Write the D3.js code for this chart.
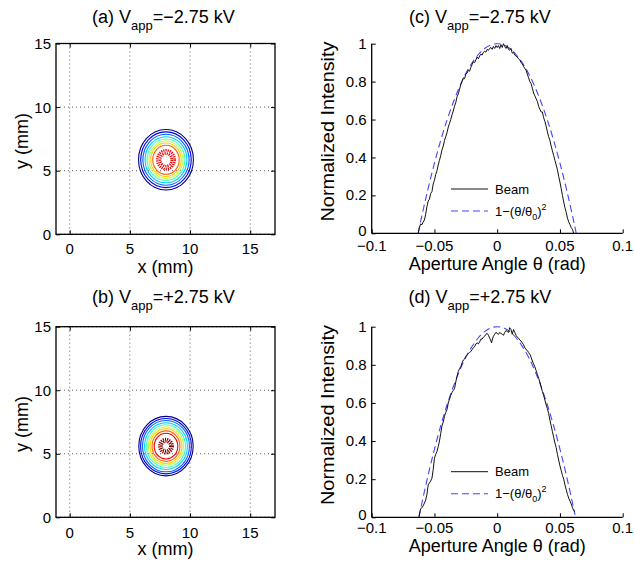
<!DOCTYPE html>
<html lang="en">
<head>
<meta charset="UTF-8">
<title>Beam profiles</title>
<script src="https://d3js.org/d3.v7.min.js"></script>
<style>
  body { margin: 0; background: #fff; }
  svg text { font-family: "Liberation Sans", Arial, Helvetica, sans-serif; fill: #000; }
</style>
</head>
<body>
<div id="chart"></div>
<script>
// --- data ---
const mmTicks = [0, 5, 10, 15];
const angleTicks = [-0.1, -0.05, 0, 0.05, 0.1];
const angleTickLabels = ["\u22120.1", "\u22120.05", "0", "0.05", "0.1"];
const intensityTicks = [0, 0.2, 0.4, 0.6, 0.8, 1];
const intensityTickLabels = ["0", "0.2", "0.4", "0.6", "0.8", "1"];

// contour levels (jet colormap index 0..9) and their semi-axes in mm
// the last two entries are the noisy core (speckled peak level)
const centerA = [8.0, 5.86];
const levelsA = [0, 1, 2, 3, 4, 5, 6, 7, 8, 8];
const rxA = [2.28, 2.10, 1.92, 1.74, 1.57, 1.41, 1.27, 1.10, 0.72, 0.48];
const ryA = [2.38, 2.19, 2.00, 1.81, 1.63, 1.47, 1.32, 1.14, 0.74, 0.50];

const centerB = [8.0, 5.6];
const levelsB = [0, 1, 2, 3, 4, 5, 6, 7, 8, 9, 9];
const rxB = [2.26, 2.11, 1.95, 1.78, 1.62, 1.46, 1.32, 1.16, 0.98, 0.55, 0.36];
const ryB = [2.34, 2.18, 2.02, 1.84, 1.68, 1.51, 1.37, 1.20, 1.01, 0.55, 0.36];

// angular profiles [theta (rad), normalized intensity]
const beamC = [[-0.063,0],[-0.062,0.03],[-0.061,0.05],[-0.060,0.045],[-0.059,0.06],[-0.058,0.07],[-0.057,0.10],[-0.056,0.14],
  [-0.055,0.17],[-0.054,0.18],[-0.053,0.21],[-0.052,0.22],[-0.051,0.26],[-0.050,0.28],[-0.049,0.31],[-0.048,0.33],
  [-0.047,0.36],[-0.046,0.385],[-0.045,0.41],[-0.044,0.44],[-0.043,0.46],[-0.042,0.49],[-0.041,0.51],[-0.040,0.53],
  [-0.039,0.56],[-0.038,0.58],[-0.037,0.60],[-0.036,0.625],[-0.035,0.645],[-0.034,0.67],[-0.033,0.69],[-0.032,0.72],
  [-0.031,0.735],[-0.030,0.76],[-0.029,0.785],[-0.028,0.80],[-0.027,0.82],[-0.026,0.815],[-0.025,0.84],[-0.024,0.845],
  [-0.023,0.86],[-0.022,0.855],[-0.021,0.875],[-0.020,0.89],[-0.019,0.905],[-0.018,0.90],[-0.017,0.915],[-0.016,0.93],
  [-0.015,0.92],[-0.014,0.935],[-0.013,0.945],[-0.012,0.94],[-0.011,0.955],[-0.010,0.96],[-0.009,0.955],[-0.008,0.97],
  [-0.007,0.965],[-0.006,0.975],[-0.005,0.98],[-0.004,0.97],[-0.003,0.985],[-0.002,0.975],[-0.001,0.99],[0.000,0.98],
  [0.001,0.99],[0.002,0.975],[0.003,0.995],[0.004,0.98],[0.005,1.0],[0.006,0.985],[0.007,0.975],[0.008,0.99],
  [0.009,0.97],[0.010,0.965],[0.011,0.975],[0.012,0.95],[0.013,0.955],[0.014,0.94],[0.015,0.935],[0.016,0.93],
  [0.017,0.92],[0.018,0.915],[0.019,0.90],[0.020,0.895],[0.021,0.88],[0.022,0.87],[0.023,0.86],[0.024,0.84],
  [0.025,0.82],[0.026,0.80],[0.027,0.79],[0.028,0.765],[0.029,0.74],[0.030,0.725],[0.031,0.71],[0.032,0.695],
  [0.033,0.67],[0.034,0.655],[0.035,0.64],[0.036,0.64],[0.037,0.61],[0.038,0.59],[0.039,0.565],[0.040,0.535],
  [0.041,0.51],[0.042,0.49],[0.043,0.46],[0.044,0.435],[0.045,0.41],[0.046,0.385],[0.047,0.36],[0.048,0.335],
  [0.049,0.30],[0.050,0.27],[0.051,0.235],[0.052,0.20],[0.053,0.165],[0.054,0.135],[0.055,0.11],[0.056,0.08],
  [0.057,0.06],[0.058,0.045],[0.059,0.03],[0.060,0.02],[0.061,0.0]];
const fitC = [[-0.063,0],[-0.060,0.093],[-0.055,0.238],[-0.050,0.37],[-0.045,0.49],[-0.040,0.597],[-0.035,0.691],
  [-0.030,0.773],[-0.025,0.843],[-0.020,0.899],[-0.015,0.943],[-0.010,0.975],[-0.005,0.994],[0,1],[0.005,0.994],
  [0.010,0.975],[0.015,0.943],[0.020,0.899],[0.025,0.843],[0.030,0.773],[0.035,0.691],[0.040,0.597],[0.045,0.49],
  [0.050,0.37],[0.055,0.238],[0.060,0.093],[0.063,0]];

const beamD = [[-0.0624,0],[-0.0615,0.03],[-0.061,0.045],[-0.060,0.05],[-0.059,0.06],[-0.058,0.075],[-0.057,0.09],[-0.056,0.12],
  [-0.055,0.17],[-0.054,0.18],[-0.053,0.19],[-0.052,0.205],[-0.051,0.25],[-0.050,0.31],[-0.049,0.33],[-0.048,0.345],
  [-0.047,0.37],[-0.046,0.40],[-0.045,0.44],[-0.044,0.48],[-0.043,0.50],[-0.042,0.53],[-0.041,0.55],[-0.040,0.565],
  [-0.039,0.60],[-0.038,0.62],[-0.037,0.64],[-0.036,0.655],[-0.035,0.665],[-0.034,0.675],[-0.033,0.71],[-0.032,0.74],
  [-0.031,0.765],[-0.030,0.78],[-0.029,0.79],[-0.028,0.81],[-0.027,0.825],[-0.026,0.83],[-0.025,0.845],[-0.024,0.85],
  [-0.023,0.86],[-0.022,0.865],[-0.021,0.87],[-0.020,0.88],[-0.019,0.89],[-0.018,0.895],[-0.017,0.91],[-0.016,0.915],
  [-0.015,0.91],[-0.014,0.92],[-0.013,0.935],[-0.012,0.935],[-0.011,0.945],[-0.010,0.95],[-0.009,0.96],[-0.008,0.965],
  [-0.007,0.955],[-0.006,0.94],[-0.005,0.925],[-0.0045,0.915],[-0.004,0.93],[-0.003,0.95],[-0.002,0.96],[-0.001,0.97],
  [0.000,0.965],[0.001,0.96],[0.002,0.97],[0.003,0.965],[0.004,0.96],[0.005,0.955],[0.006,0.97],[0.007,0.98],
  [0.008,0.975],[0.009,0.97],[0.010,0.995],[0.011,0.985],[0.012,0.96],[0.013,0.985],[0.014,0.97],[0.015,0.955],
  [0.016,0.945],[0.017,0.94],[0.018,0.93],[0.019,0.925],[0.020,0.915],[0.021,0.905],[0.022,0.89],[0.023,0.88],
  [0.024,0.875],[0.025,0.865],[0.026,0.855],[0.027,0.84],[0.028,0.82],[0.029,0.805],[0.030,0.79],[0.031,0.77],
  [0.032,0.75],[0.033,0.73],[0.034,0.71],[0.035,0.685],[0.036,0.66],[0.037,0.64],[0.038,0.615],[0.039,0.59],
  [0.040,0.57],[0.041,0.545],[0.042,0.51],[0.043,0.48],[0.044,0.45],[0.045,0.42],[0.046,0.39],[0.047,0.365],
  [0.048,0.33],[0.049,0.30],[0.050,0.27],[0.051,0.245],[0.052,0.22],[0.053,0.20],[0.054,0.17],[0.055,0.145],
  [0.056,0.12],[0.057,0.10],[0.058,0.085],[0.059,0.07],[0.060,0.05],[0.061,0.035],[0.062,0.03]];
const fitD = [[-0.0624,0],[-0.060,0.075],[-0.055,0.223],[-0.050,0.358],[-0.045,0.48],[-0.040,0.589],[-0.035,0.685],
  [-0.030,0.769],[-0.025,0.84],[-0.020,0.897],[-0.015,0.942],[-0.010,0.974],[-0.005,0.994],[0,1],[0.005,0.994],
  [0.010,0.974],[0.015,0.942],[0.020,0.897],[0.025,0.84],[0.030,0.769],[0.035,0.685],[0.040,0.589],[0.045,0.48],
  [0.050,0.358],[0.055,0.223],[0.060,0.075],[0.062,0.013]];

// --- styles ---
const jet = ["#000088", "#0000f0", "#0060ff", "#00ccff", "#40ffc0", "#b8ff48", "#ffd000", "#ff6000", "#ee0000", "#800000"];
const fitColor = "#4444ff";

const W = 634, H = 567;
const svg = d3.select("#chart").append("svg").attr("width", W).attr("height", H);

// --- contour panels (a) and (b) ---
function contourPanel(box, center, levels, rx, ry, title, tickBase, labelBase, titleBase) {
  const x = d3.scaleLinear().domain([-1.14, 17.06]).range([box.l, box.r]);
  const y = d3.scaleLinear().domain([0, 15]).range([box.b, box.t]);
  const g = svg.append("g");
  const peak = d3.max(levels);

  // dotted grid
  g.selectAll(".gx").data(mmTicks).enter().append("line")
    .attr("x1", d => x(d)).attr("x2", d => x(d)).attr("y1", box.t).attr("y2", box.b)
    .attr("stroke", "#333").attr("stroke-width", 0.8).attr("stroke-dasharray", "1,3");
  g.selectAll(".gy").data(mmTicks).enter().append("line")
    .attr("x1", box.l).attr("x2", box.r).attr("y1", d => y(d)).attr("y2", d => y(d))
    .attr("stroke", "#333").attr("stroke-width", 0.8).attr("stroke-dasharray", "1,3");

  // contour rings
  g.selectAll(".ring").data(levels).enter().append("ellipse")
    .attr("cx", x(center[0])).attr("cy", y(center[1]))
    .attr("rx", (d, i) => x(center[0] + rx[i]) - x(center[0]))
    .attr("ry", (d, i) => y(center[1]) - y(center[1] + ry[i]))
    .attr("fill", "none")
    .attr("stroke", d => jet[d])
    .attr("stroke-width", d => d === peak ? 2.6 : 1.1)
    .attr("stroke-dasharray", d => d === peak ? "1.2,1" : null);

  // axes with inward ticks, box
  g.append("g").attr("transform", `translate(0,${box.b})`)
    .call(d3.axisBottom(x).tickValues(mmTicks).tickSize(-4).tickFormat(""));
  g.append("g").attr("transform", `translate(0,${box.t})`)
    .call(d3.axisTop(x).tickValues(mmTicks).tickSize(-4).tickFormat(""));
  g.append("g").attr("transform", `translate(${box.l},0)`)
    .call(d3.axisLeft(y).tickValues(mmTicks).tickSize(-4).tickFormat(""));
  g.append("g").attr("transform", `translate(${box.r},0)`)
    .call(d3.axisRight(y).tickValues(mmTicks).tickSize(-4).tickFormat(""));
  g.selectAll(".domain").remove();
  g.selectAll(".tick line").attr("stroke", "#000");
  g.append("rect").attr("x", box.l).attr("y", box.t)
    .attr("width", box.r - box.l).attr("height", box.b - box.t)
    .attr("fill", "none").attr("stroke", "#000").attr("stroke-width", 1.3);

  // tick labels
  g.selectAll(".xl").data(mmTicks).enter().append("text")
    .attr("x", d => x(d)).attr("y", tickBase).attr("text-anchor", "middle")
    .style("font-size", "15px").text(d => d);
  g.selectAll(".yl").data(mmTicks).enter().append("text")
    .attr("x", box.l - 5).attr("y", d => y(d)).attr("dy", "0.36em").attr("text-anchor", "end")
    .style("font-size", "15px").text(d => d);

  g.append("text").attr("x", (box.l + box.r) / 2).attr("y", labelBase).attr("text-anchor", "middle")
    .style("font-size", "18px").text("x (mm)");
  g.append("text").attr("transform", `translate(28,${(box.t + box.b) / 2 + 2}) rotate(-90)`)
    .attr("text-anchor", "middle").style("font-size", "18px").text("y (mm)");

  drawTitle(163.5, titleBase, title);
}

function drawTitle(cx, base, t) {
  const tx = svg.append("text").attr("x", cx).attr("y", base).attr("text-anchor", "middle")
    .style("font-size", "18px");
  tx.append("tspan").text(t[0] + " V");
  tx.append("tspan").attr("dy", 7).style("font-size", "13px").text("app");
  tx.append("tspan").attr("dy", -7).text(t[1]);
}

// --- profile panels (c) and (d) ---
function profilePanel(box, beam, fit, title, tickBase, labelBase, titleBase, legY) {
  const x = d3.scaleLinear().domain([-0.1, 0.1]).range([box.l, box.r]);
  const y = d3.scaleLinear().domain([0, 1]).range([box.b, box.t]);
  const g = svg.append("g");

  g.append("path").datum(fit)
    .attr("d", d3.line().x(d => x(d[0])).y(d => y(d[1])).curve(d3.curveMonotoneX))
    .attr("fill", "none").attr("stroke", fitColor).attr("stroke-width", 1.1).attr("stroke-dasharray", "7,4");
  g.append("path").datum(beam)
    .attr("d", d3.line().x(d => x(d[0])).y(d => y(d[1])))
    .attr("fill", "none").attr("stroke", "#111").attr("stroke-width", 1);

  const ax = g.append("g").attr("transform", `translate(0,${box.b})`)
    .call(d3.axisBottom(x).tickValues(angleTicks).tickSize(-4).tickFormat(""));
  const ay = g.append("g").attr("transform", `translate(${box.l},0)`)
    .call(d3.axisLeft(y).tickValues(intensityTicks).tickSize(-4).tickFormat(""));
  [ax, ay].forEach(a => {
    a.select(".domain").attr("stroke", "#000").attr("stroke-width", 1.3);
    a.selectAll(".tick line").attr("stroke", "#000");
  });
  ax.select(".domain").attr("d", `M${box.l},0H${box.r}`);
  ay.select(".domain").attr("d", `M0,${box.b}V${box.t}`);

  g.selectAll(".xl").data(angleTicks).enter().append("text")
    .attr("x", d => x(d)).attr("y", tickBase).attr("text-anchor", "middle")
    .style("font-size", "15px").text((d, i) => angleTickLabels[i]);
  // the 0 label sits just above the x tick labels, as in the original
  g.selectAll(".yl").data(intensityTicks).enter().append("text")
    .attr("x", box.l - 5).attr("y", d => y(d) - (d === 0 ? 2 : 0)).attr("dy", "0.34em").attr("text-anchor", "end")
    .style("font-size", "15px").text((d, i) => intensityTickLabels[i]);

  g.append("text").attr("x", (box.l + box.r) / 2).attr("y", labelBase).attr("text-anchor", "middle")
    .style("font-size", "18px").text("Aperture Angle \u03b8 (rad)");
  g.append("text").attr("transform", `translate(334,${(box.t + box.b) / 2 - 7}) rotate(-90)`)
    .attr("text-anchor", "middle").style("font-size", "18px")
    .attr("textLength", 180).attr("lengthAdjust", "spacingAndGlyphs")
    .text("Normalized Intensity");

  // legend
  g.append("line").attr("x1", 451).attr("x2", 488).attr("y1", legY).attr("y2", legY)
    .attr("stroke", "#111").attr("stroke-width", 1);
  g.append("text").attr("x", 495).attr("y", legY + 4.5).style("font-size", "13px").text("Beam");
  g.append("line").attr("x1", 451).attr("x2", 488).attr("y1", legY + 22).attr("y2", legY + 22)
    .attr("stroke", fitColor).attr("stroke-width", 1.1).attr("stroke-dasharray", "7,4");
  const lt = g.append("text").attr("x", 495).attr("y", legY + 26.5).style("font-size", "13px");
  lt.append("tspan").text("1\u2212(\u03b8/\u03b8");
  lt.append("tspan").attr("dy", 4).style("font-size", "9px").text("0");
  lt.append("tspan").attr("dy", -4).text(")");
  lt.append("tspan").attr("dy", -6).style("font-size", "9px").text("2");

  drawTitle(480, titleBase, title);
}

contourPanel({l: 56, r: 275, t: 43.5, b: 234.3}, centerA, levelsA, rxA, ryA,
  ["(a)", "=\u22122.75 kV"], 254, 273, 22.7);
contourPanel({l: 56, r: 275, t: 326.7, b: 517.3}, centerB, levelsB, rxB, ryB,
  ["(b)", "=+2.75 kV"], 538, 555, 303.3);
profilePanel({l: 371.7, r: 622.7, t: 43.7, b: 233.3}, beamC, fitC,
  ["(c)", "=\u22122.75 kV"], 250.5, 269.5, 22.7, 189);
profilePanel({l: 371.7, r: 622.7, t: 326.7, b: 517.3}, beamD, fitD,
  ["(d)", "=+2.75 kV"], 533, 552, 303.3, 471.7);
</script>
</body>
</html>
